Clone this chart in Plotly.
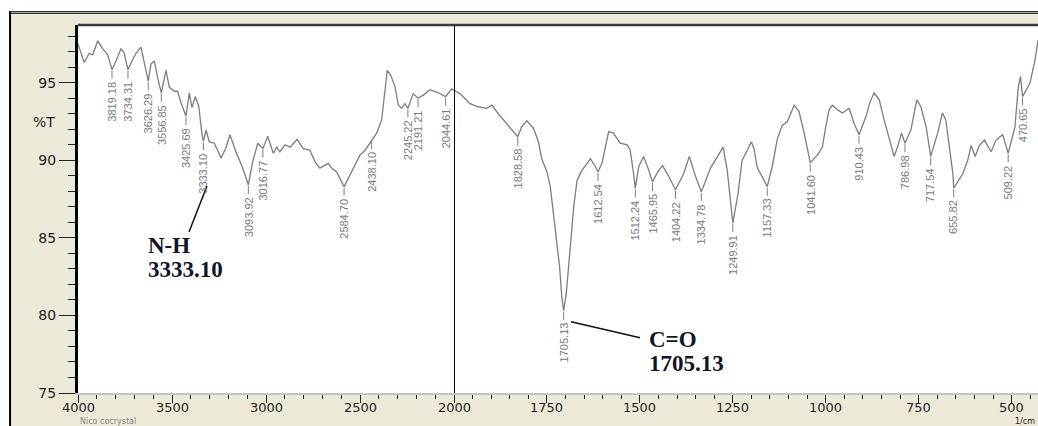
import plotly.graph_objects as go

# FTIR transmittance spectrum (wavenumber in 1/cm, %T)
wavenumber = [
    4000, 3967, 3940, 3922, 3895, 3869, 3842, 3819.18, 3798, 3771, 3754, 3734.31,
    3709, 3691, 3665, 3647, 3626.29, 3612, 3594, 3576, 3556.85, 3532, 3514, 3488,
    3470, 3452, 3425.69, 3408, 3394, 3376, 3358, 3340, 3333.10, 3319, 3302, 3275,
    3239, 3213, 3192, 3160, 3124, 3093.92, 3071, 3044, 3016.77, 2991, 2961, 2943,
    2926, 2899, 2872, 2834, 2802, 2766, 2739, 2713, 2669, 2651, 2624, 2584.70,
    2562, 2527, 2500, 2473, 2438.10, 2411, 2385, 2367, 2355, 2337, 2314, 2296,
    2278, 2261, 2245.22, 2217, 2191.21, 2163, 2128, 2092, 2044.61, 2012, 2000,
    1984, 1957, 1935, 1912, 1898, 1881, 1867, 1849, 1828.58, 1818, 1804, 1786,
    1773, 1764, 1750, 1741, 1732, 1723, 1716, 1710, 1705.13, 1698, 1687, 1678,
    1669, 1656, 1642, 1633, 1620, 1612.54, 1602, 1593, 1584, 1571, 1553, 1534,
    1526, 1517, 1512.24, 1503, 1490, 1476, 1465.95, 1452, 1439, 1422, 1404.22,
    1382, 1367, 1350, 1334.78, 1310, 1292, 1276, 1265, 1256, 1249.91, 1236, 1225,
    1211, 1200, 1193, 1184, 1171, 1157.33, 1144, 1130, 1117, 1103, 1085, 1072,
    1058, 1048, 1041.60, 1022, 1009, 1000, 991, 982, 968, 955, 937, 924, 910.43,
    892, 881, 870, 856, 843, 829, 816, 807, 796, 786.98, 771, 755, 744, 730, 723,
    717.54, 699, 686, 677, 668, 658, 655.82, 631, 618, 609, 598, 587, 573, 555,
    542, 524, 514, 509.22, 491, 482, 476, 470.65, 451, 437, 429,
]
transmittance = [
    97.5, 96.3, 96.9, 96.8, 97.7, 97.2, 96.8, 95.84, 96.4, 97.2, 96.9, 95.84,
    96.5, 96.9, 97.3, 96.2, 95.1, 96.2, 96.4, 95.3, 94.35, 95.8, 94.7, 94.45,
    94.45, 93.7, 92.85, 94.35, 93.4, 94.1, 93.5, 91.65, 91.22, 91.95, 91.2, 91.1,
    90.15, 90.8, 91.65, 90.55, 89.5, 88.42, 89.9, 91.1, 90.75, 91.55, 90.45, 90.85,
    90.55, 91.0, 90.85, 91.35, 90.75, 90.65, 89.9, 89.5, 89.8, 89.5, 89.25, 88.3,
    88.85, 89.8, 90.35, 90.65, 91.3, 91.75, 92.6, 94.75, 95.8, 95.5, 94.75, 93.55,
    93.35, 93.65, 93.35, 94.3, 94.0, 94.2, 94.55, 94.4, 94.1, 94.6, 94.5,
    94.3, 93.65, 93.45, 93.35, 93.55, 93.0, 92.6, 92.15, 91.52, 92.15, 92.55, 92.05,
    91.2, 90.1, 89.25, 88.3, 86.55, 84.85, 83.15, 81.2, 80.3, 81.4, 84.65, 87.0,
    88.7, 89.35, 89.8, 90.1, 89.6, 89.25, 89.8, 90.85, 91.85, 91.75, 91.1, 91.0,
    90.65, 89.15, 88.2, 89.6, 90.25, 89.35, 88.6, 89.25, 89.65, 88.95, 88.1,
    89.15, 90.25, 88.95, 87.95, 89.5, 90.25, 90.85, 89.35, 87.2, 85.95, 87.85, 90.0,
    90.65, 91.2, 90.75, 89.5, 88.95, 88.3, 89.6, 91.4, 92.25, 92.5, 93.55, 93.15,
    91.75, 90.65, 89.85, 90.35, 90.85, 92.15, 93.25, 93.55, 93.25, 93.05, 93.35, 92.4, 91.65,
    92.8, 93.75, 94.35, 93.9, 92.6, 91.3, 90.25, 90.85, 91.75, 91.1, 91.95, 93.9, 93.45, 92.15, 91.1,
    90.25, 91.75, 93.05, 92.6, 90.85, 89.15, 88.2, 89.15, 90.0, 90.95, 90.25, 90.95, 91.3, 90.55,
    91.3, 91.65, 90.85, 90.45, 92.15, 94.75, 95.4, 94.1, 94.95, 96.45, 97.75,
]

# Wavenumbers picked out by the peak-labelling routine
peak_wavenumber = [
    3819.18, 3734.31, 3626.29, 3556.85, 3425.69, 3333.10, 3093.92, 3016.77,
    2584.70, 2438.10, 2245.22, 2191.21, 2044.61, 1828.58, 1705.13, 1612.54,
    1512.24, 1465.95, 1404.22, 1334.78, 1249.91, 1157.33, 1041.60, 910.43,
    786.98, 717.54, 655.82, 509.22, 470.65,
]

# Assigned bands
band_name = ["N-H", "C=O"]
band_wavenumber = [3333.10, 1705.13]

left_ticks = [4000, 3500, 3000, 2500]
right_ticks = [2000, 1750, 1500, 1250, 1000, 750, 500]
y_ticks = [75, 80, 85, 90, 95]

Y_RANGE = [75, 98.72]
LEFT_RANGE = [4000, 2000]
RIGHT_RANGE = [2000, 429]
SPLIT = 376 / 960  # the 4000-2000 half is drawn at half the scale

BEIGE = "#ECE9D8"
TRACE_GREY = "#7d7d7d"
TEXT_DARK = "#1e1e1e"
TICK_FONT = dict(family="DejaVu Sans", size=14, color=TEXT_DARK)
XTICK_FONT = dict(family="DejaVu Sans", size=13, color=TEXT_DARK)
FOOT_FONT = dict(family="DejaVu Sans", size=8, color="#8a8a8a")

lookup = dict(zip(wavenumber, transmittance))

left = [(w, t) for w, t in zip(wavenumber, transmittance) if w >= 2000]
right = [(w, t) for w, t in zip(wavenumber, transmittance) if w <= 2000]

fig = go.Figure()
fig.add_trace(go.Scatter(
    x=[w for w, _ in left], y=[t for _, t in left], xaxis="x", yaxis="y",
    mode="lines", line=dict(color=TRACE_GREY, width=1.3), hoverinfo="skip",
))
fig.add_trace(go.Scatter(
    x=[w for w, _ in right], y=[t for _, t in right], xaxis="x2", yaxis="y",
    mode="lines", line=dict(color=TRACE_GREY, width=1.3), hoverinfo="skip",
))

shapes = [
    # window frame and beige panel behind the plot
    dict(type="rect", xref="paper", yref="paper", x0=-0.0698, x1=1.02, y0=-0.12, y1=1.0299,
         fillcolor=BEIGE, line=dict(width=0), layer="below"),
    dict(type="rect", xref="paper", yref="paper", x0=0, x1=1, y0=0, y1=1,
         fillcolor="white", line=dict(width=0), layer="below"),
    dict(type="line", xref="paper", yref="paper", x0=-0.0719, x1=1.02, y0=1.0361, y1=1.0361,
         line=dict(color="black", width=1)),
    dict(type="line", xref="paper", yref="paper", x0=-0.0719, x1=1.02, y0=1.0318, y1=1.0318,
         line=dict(color="black", width=1)),
    dict(type="line", xref="paper", yref="paper", x0=-0.0708, x1=-0.0708, y0=-0.12, y1=1.0361,
         line=dict(color="black", width=2)),
    dict(type="line", xref="paper", yref="paper", x0=0, x1=1.02, y0=1.0, y1=1.0,
         line=dict(color="#3c3c3c", width=2.5)),
    # divider where the wavenumber scale changes
    dict(type="line", xref="x2", yref="paper", x0=2000, x1=2000, y0=0, y1=1,
         line=dict(color="black", width=2)),
]

annotations = []
GAP = 9
for w in peak_wavenumber:
    ax_ref = "x" if w > 2000 else "x2"
    t = lookup[w]
    shapes.append(dict(
        type="line", xref=ax_ref, yref="y", xsizemode="pixel", ysizemode="pixel",
        xanchor=w, yanchor=t, x0=0, x1=0, y0=-1, y1=-GAP,
        line=dict(color=TRACE_GREY, width=1),
    ))
    annotations.append(dict(
        x=w, y=t, xref=ax_ref, yref="y", text=f"{w:.2f}", showarrow=False,
        textangle=-90, xanchor="center", yanchor="top", yshift=-(GAP + 1),
        font=dict(family="Liberation Sans", size=11, color="#7a7a7a"),
    ))

# band call-outs: leader offsets and text offsets in pixels from the band minimum
callout_style = {
    "N-H": dict(lead=(3.6, -44.7, -14.4, -90.7), dx=-57.7, dy=(-103.7, -127.7)),
    "C=O": dict(lead=(7.4, -10.9, 76.4, -26.9), dx=83.1, dy=(-29.2, -52.7)),
}
for name, w in zip(band_name, band_wavenumber):
    ax_ref = "x" if w > 2000 else "x2"
    t = lookup[w]
    st = callout_style[name]
    x0, y0, x1, y1 = st["lead"]
    shapes.append(dict(
        type="line", xref=ax_ref, yref="y", xsizemode="pixel", ysizemode="pixel",
        xanchor=w, yanchor=t, x0=x0, y0=y0, x1=x1, y1=y1,
        line=dict(color="#111111", width=1.5),
    ))
    for txt, dy in zip([name, f"{w:.2f}"], st["dy"]):
        annotations.append(dict(
            x=w, y=t, xref=ax_ref, yref="y", text=f"<b>{txt}</b>", showarrow=False,
            xanchor="left", yanchor="middle", xshift=st["dx"], yshift=dy,
            font=dict(family="Liberation Serif", size=23, color="#141428"),
        ))

# wavenumber tick labels, set just under the tick marks
for ax_ref, ticks in (("x", left_ticks), ("x2", right_ticks)):
    for v in ticks:
        annotations.append(dict(
            x=v, y=0, xref=ax_ref, yref="paper", text=str(v), showarrow=False,
            xanchor="center", yanchor="top", yshift=-5.5, borderpad=0, font=XTICK_FONT,
        ))

annotations += [
    dict(x=0, y=92.5, xref="paper", yref="y", text="%T", showarrow=False,
         xanchor="right", yanchor="middle", xshift=-21, font=TICK_FONT),
    dict(x=0, y=0, xref="paper", yref="paper", text="Nico cocrystal", showarrow=False,
         xanchor="left", yanchor="top", yshift=-22.6, xshift=1, borderpad=0, font=FOOT_FONT),
    dict(x=1.0, y=0, xref="paper", yref="paper", text="1/cm", showarrow=False,
         xanchor="right", yanchor="top", yshift=-22.6, xshift=-2, borderpad=0,
         font=dict(family="DejaVu Sans", size=8, color=TEXT_DARK)),
]

x_common = dict(
    showgrid=False, zeroline=False, showline=True, linecolor="#c4c4c4", linewidth=2,
    ticks="outside", ticklen=8, tickwidth=1, tickcolor="#222222", showticklabels=False,
    anchor="y", fixedrange=True,
)

fig.update_layout(
    width=1038, height=426,
    margin=dict(l=78, r=0, t=25, b=33),
    paper_bgcolor="white", plot_bgcolor="rgba(0,0,0,0)",
    showlegend=False,
    xaxis=dict(
        domain=[0, SPLIT], range=LEFT_RANGE, tickvals=left_ticks,
        minor=dict(tickvals=[v for v in range(2100, 4000, 100) if v % 500],
                   ticks="outside", ticklen=4, tickcolor="#222222", tickwidth=1),
        **x_common,
    ),
    xaxis2=dict(
        domain=[SPLIT, 1], range=RIGHT_RANGE, tickvals=right_ticks,
        minor=dict(tickvals=[v for v in range(450, 2000, 50) if v % 250],
                   ticks="outside", ticklen=4, tickcolor="#222222", tickwidth=1),
        **x_common,
    ),
    yaxis=dict(
        domain=[0, 1], range=Y_RANGE, tickvals=y_ticks,
        showgrid=False, zeroline=False, showline=True, linecolor="black", linewidth=3,
        ticks="outside", ticklen=16, tickwidth=1, tickcolor="#222222", tickfont=TICK_FONT,
        minor=dict(tickvals=[v for v in range(76, 99) if v % 5],
                   ticks="outside", ticklen=7, tickcolor="#222222", tickwidth=1),
        anchor="x", fixedrange=True,
    ),
    shapes=shapes,
    annotations=annotations,
)

fig.write_html("out.html", config={"displayModeBar": False})
